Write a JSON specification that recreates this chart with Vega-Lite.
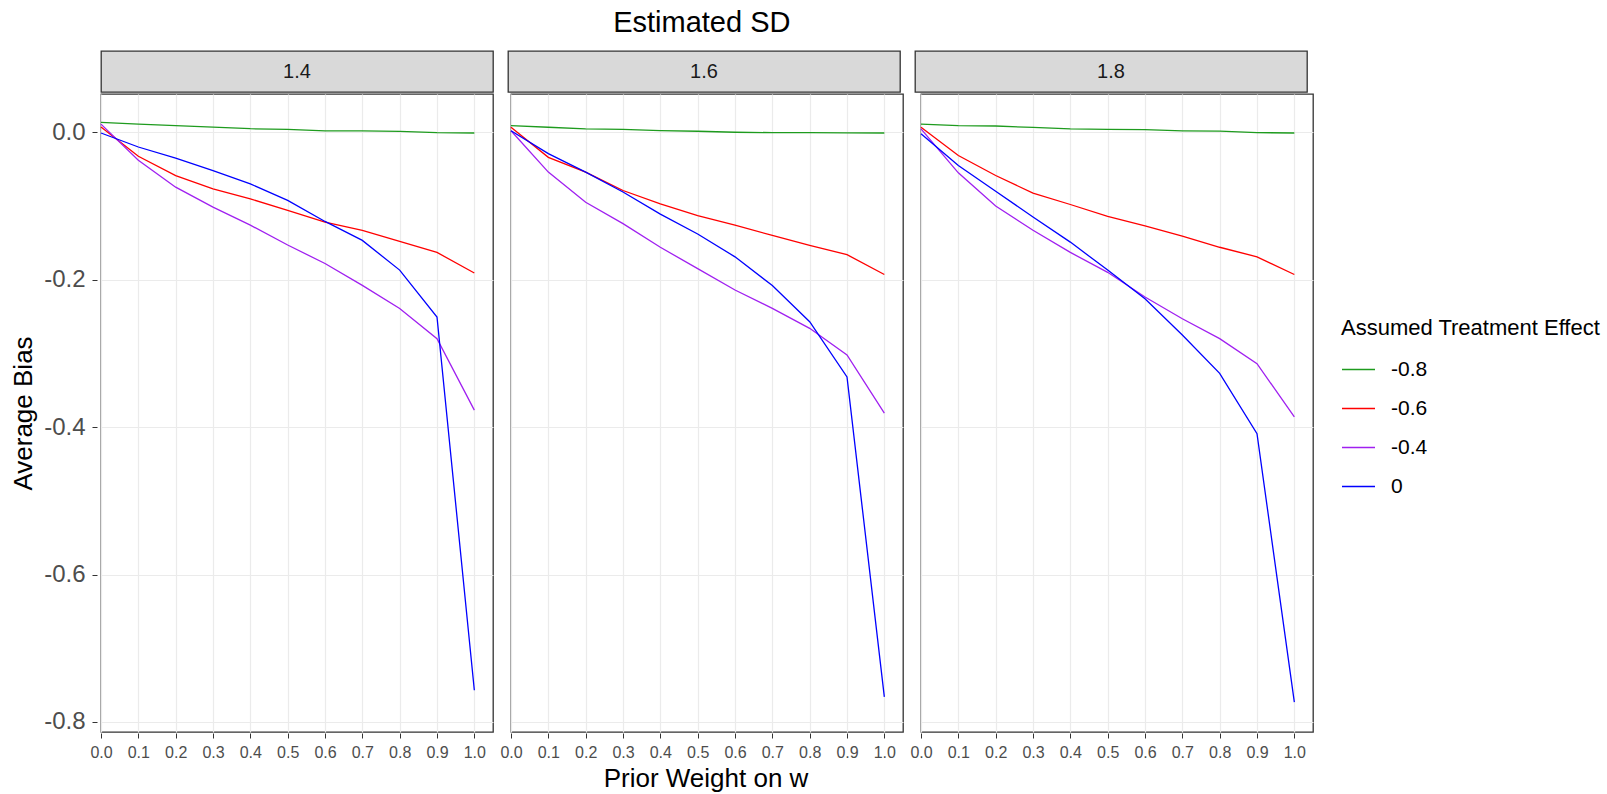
{
  "$schema": "https://vega.github.io/schema/vega-lite/v6.json",
  "padding": {"left": 10, "top": 9, "right": 5, "bottom": 0},
  "title": {"text": "Estimated SD", "fontSize": 29, "fontWeight": "normal", "color": "black", "anchor": "middle", "offset": 12, "dx": -104},
  "datasets": {
    "bias": [
      {"sd": "1.4", "effect": "-0.8", "w": 0.0, "bias": 0.0135},
      {"sd": "1.4", "effect": "-0.8", "w": 0.1, "bias": 0.011},
      {"sd": "1.4", "effect": "-0.8", "w": 0.2, "bias": 0.009},
      {"sd": "1.4", "effect": "-0.8", "w": 0.3, "bias": 0.007},
      {"sd": "1.4", "effect": "-0.8", "w": 0.4, "bias": 0.0048},
      {"sd": "1.4", "effect": "-0.8", "w": 0.5, "bias": 0.004},
      {"sd": "1.4", "effect": "-0.8", "w": 0.6, "bias": 0.002},
      {"sd": "1.4", "effect": "-0.8", "w": 0.7, "bias": 0.0018},
      {"sd": "1.4", "effect": "-0.8", "w": 0.8, "bias": 0.0013},
      {"sd": "1.4", "effect": "-0.8", "w": 0.9, "bias": -0.0005},
      {"sd": "1.4", "effect": "-0.8", "w": 1.0, "bias": -0.001},
      {"sd": "1.4", "effect": "-0.6", "w": 0.0, "bias": 0.007},
      {"sd": "1.4", "effect": "-0.6", "w": 0.1, "bias": -0.0325},
      {"sd": "1.4", "effect": "-0.6", "w": 0.2, "bias": -0.0587},
      {"sd": "1.4", "effect": "-0.6", "w": 0.3, "bias": -0.0767},
      {"sd": "1.4", "effect": "-0.6", "w": 0.4, "bias": -0.0903},
      {"sd": "1.4", "effect": "-0.6", "w": 0.5, "bias": -0.106},
      {"sd": "1.4", "effect": "-0.6", "w": 0.6, "bias": -0.122},
      {"sd": "1.4", "effect": "-0.6", "w": 0.7, "bias": -0.133},
      {"sd": "1.4", "effect": "-0.6", "w": 0.8, "bias": -0.148},
      {"sd": "1.4", "effect": "-0.6", "w": 0.9, "bias": -0.163},
      {"sd": "1.4", "effect": "-0.6", "w": 1.0, "bias": -0.191},
      {"sd": "1.4", "effect": "-0.4", "w": 0.0, "bias": 0.011},
      {"sd": "1.4", "effect": "-0.4", "w": 0.1, "bias": -0.038},
      {"sd": "1.4", "effect": "-0.4", "w": 0.2, "bias": -0.0745},
      {"sd": "1.4", "effect": "-0.4", "w": 0.3, "bias": -0.1016},
      {"sd": "1.4", "effect": "-0.4", "w": 0.4, "bias": -0.126},
      {"sd": "1.4", "effect": "-0.4", "w": 0.5, "bias": -0.153},
      {"sd": "1.4", "effect": "-0.4", "w": 0.6, "bias": -0.178},
      {"sd": "1.4", "effect": "-0.4", "w": 0.7, "bias": -0.2077},
      {"sd": "1.4", "effect": "-0.4", "w": 0.8, "bias": -0.239},
      {"sd": "1.4", "effect": "-0.4", "w": 0.9, "bias": -0.28},
      {"sd": "1.4", "effect": "-0.4", "w": 1.0, "bias": -0.377},
      {"sd": "1.4", "effect": "0", "w": 0.0, "bias": -0.001},
      {"sd": "1.4", "effect": "0", "w": 0.1, "bias": -0.02},
      {"sd": "1.4", "effect": "0", "w": 0.2, "bias": -0.035},
      {"sd": "1.4", "effect": "0", "w": 0.3, "bias": -0.052},
      {"sd": "1.4", "effect": "0", "w": 0.4, "bias": -0.07},
      {"sd": "1.4", "effect": "0", "w": 0.5, "bias": -0.0925},
      {"sd": "1.4", "effect": "0", "w": 0.6, "bias": -0.121},
      {"sd": "1.4", "effect": "0", "w": 0.7, "bias": -0.1467},
      {"sd": "1.4", "effect": "0", "w": 0.8, "bias": -0.187},
      {"sd": "1.4", "effect": "0", "w": 0.9, "bias": -0.2506},
      {"sd": "1.4", "effect": "0", "w": 1.0, "bias": -0.757},
      {"sd": "1.6", "effect": "-0.8", "w": 0.0, "bias": 0.009},
      {"sd": "1.6", "effect": "-0.8", "w": 0.1, "bias": 0.0068},
      {"sd": "1.6", "effect": "-0.8", "w": 0.2, "bias": 0.0045},
      {"sd": "1.6", "effect": "-0.8", "w": 0.3, "bias": 0.004},
      {"sd": "1.6", "effect": "-0.8", "w": 0.4, "bias": 0.0023},
      {"sd": "1.6", "effect": "-0.8", "w": 0.5, "bias": 0.0014},
      {"sd": "1.6", "effect": "-0.8", "w": 0.6, "bias": 0.0},
      {"sd": "1.6", "effect": "-0.8", "w": 0.7, "bias": -0.0005},
      {"sd": "1.6", "effect": "-0.8", "w": 0.8, "bias": -0.0005},
      {"sd": "1.6", "effect": "-0.8", "w": 0.9, "bias": -0.0008},
      {"sd": "1.6", "effect": "-0.8", "w": 1.0, "bias": -0.001},
      {"sd": "1.6", "effect": "-0.6", "w": 0.0, "bias": 0.0068},
      {"sd": "1.6", "effect": "-0.6", "w": 0.1, "bias": -0.034},
      {"sd": "1.6", "effect": "-0.6", "w": 0.2, "bias": -0.054},
      {"sd": "1.6", "effect": "-0.6", "w": 0.3, "bias": -0.079},
      {"sd": "1.6", "effect": "-0.6", "w": 0.4, "bias": -0.097},
      {"sd": "1.6", "effect": "-0.6", "w": 0.5, "bias": -0.113},
      {"sd": "1.6", "effect": "-0.6", "w": 0.6, "bias": -0.126},
      {"sd": "1.6", "effect": "-0.6", "w": 0.7, "bias": -0.14},
      {"sd": "1.6", "effect": "-0.6", "w": 0.8, "bias": -0.1535},
      {"sd": "1.6", "effect": "-0.6", "w": 0.9, "bias": -0.166},
      {"sd": "1.6", "effect": "-0.6", "w": 1.0, "bias": -0.193},
      {"sd": "1.6", "effect": "-0.4", "w": 0.0, "bias": 0.002},
      {"sd": "1.6", "effect": "-0.4", "w": 0.1, "bias": -0.054},
      {"sd": "1.6", "effect": "-0.4", "w": 0.2, "bias": -0.095},
      {"sd": "1.6", "effect": "-0.4", "w": 0.3, "bias": -0.124},
      {"sd": "1.6", "effect": "-0.4", "w": 0.4, "bias": -0.156},
      {"sd": "1.6", "effect": "-0.4", "w": 0.5, "bias": -0.185},
      {"sd": "1.6", "effect": "-0.4", "w": 0.6, "bias": -0.214},
      {"sd": "1.6", "effect": "-0.4", "w": 0.7, "bias": -0.239},
      {"sd": "1.6", "effect": "-0.4", "w": 0.8, "bias": -0.266},
      {"sd": "1.6", "effect": "-0.4", "w": 0.9, "bias": -0.302},
      {"sd": "1.6", "effect": "-0.4", "w": 1.0, "bias": -0.381},
      {"sd": "1.6", "effect": "0", "w": 0.0, "bias": 0.002},
      {"sd": "1.6", "effect": "0", "w": 0.1, "bias": -0.029},
      {"sd": "1.6", "effect": "0", "w": 0.2, "bias": -0.054},
      {"sd": "1.6", "effect": "0", "w": 0.3, "bias": -0.081},
      {"sd": "1.6", "effect": "0", "w": 0.4, "bias": -0.111},
      {"sd": "1.6", "effect": "0", "w": 0.5, "bias": -0.138},
      {"sd": "1.6", "effect": "0", "w": 0.6, "bias": -0.169},
      {"sd": "1.6", "effect": "0", "w": 0.7, "bias": -0.208},
      {"sd": "1.6", "effect": "0", "w": 0.8, "bias": -0.257},
      {"sd": "1.6", "effect": "0", "w": 0.9, "bias": -0.332},
      {"sd": "1.6", "effect": "0", "w": 1.0, "bias": -0.766},
      {"sd": "1.8", "effect": "-0.8", "w": 0.0, "bias": 0.011},
      {"sd": "1.8", "effect": "-0.8", "w": 0.1, "bias": 0.009},
      {"sd": "1.8", "effect": "-0.8", "w": 0.2, "bias": 0.0085},
      {"sd": "1.8", "effect": "-0.8", "w": 0.3, "bias": 0.0065},
      {"sd": "1.8", "effect": "-0.8", "w": 0.4, "bias": 0.0045},
      {"sd": "1.8", "effect": "-0.8", "w": 0.5, "bias": 0.004},
      {"sd": "1.8", "effect": "-0.8", "w": 0.6, "bias": 0.0035},
      {"sd": "1.8", "effect": "-0.8", "w": 0.7, "bias": 0.002},
      {"sd": "1.8", "effect": "-0.8", "w": 0.8, "bias": 0.0015},
      {"sd": "1.8", "effect": "-0.8", "w": 0.9, "bias": -0.0005},
      {"sd": "1.8", "effect": "-0.8", "w": 1.0, "bias": -0.001},
      {"sd": "1.8", "effect": "-0.6", "w": 0.0, "bias": 0.0068},
      {"sd": "1.8", "effect": "-0.6", "w": 0.1, "bias": -0.0316},
      {"sd": "1.8", "effect": "-0.6", "w": 0.2, "bias": -0.0587},
      {"sd": "1.8", "effect": "-0.6", "w": 0.3, "bias": -0.0826},
      {"sd": "1.8", "effect": "-0.6", "w": 0.4, "bias": -0.098},
      {"sd": "1.8", "effect": "-0.6", "w": 0.5, "bias": -0.114},
      {"sd": "1.8", "effect": "-0.6", "w": 0.6, "bias": -0.127},
      {"sd": "1.8", "effect": "-0.6", "w": 0.7, "bias": -0.141},
      {"sd": "1.8", "effect": "-0.6", "w": 0.8, "bias": -0.156},
      {"sd": "1.8", "effect": "-0.6", "w": 0.9, "bias": -0.169},
      {"sd": "1.8", "effect": "-0.6", "w": 1.0, "bias": -0.193},
      {"sd": "1.8", "effect": "-0.4", "w": 0.0, "bias": 0.0045},
      {"sd": "1.8", "effect": "-0.4", "w": 0.1, "bias": -0.055},
      {"sd": "1.8", "effect": "-0.4", "w": 0.2, "bias": -0.1},
      {"sd": "1.8", "effect": "-0.4", "w": 0.3, "bias": -0.133},
      {"sd": "1.8", "effect": "-0.4", "w": 0.4, "bias": -0.163},
      {"sd": "1.8", "effect": "-0.4", "w": 0.5, "bias": -0.19},
      {"sd": "1.8", "effect": "-0.4", "w": 0.6, "bias": -0.2235},
      {"sd": "1.8", "effect": "-0.4", "w": 0.7, "bias": -0.253},
      {"sd": "1.8", "effect": "-0.4", "w": 0.8, "bias": -0.28},
      {"sd": "1.8", "effect": "-0.4", "w": 0.9, "bias": -0.314},
      {"sd": "1.8", "effect": "-0.4", "w": 1.0, "bias": -0.386},
      {"sd": "1.8", "effect": "0", "w": 0.0, "bias": -0.002},
      {"sd": "1.8", "effect": "0", "w": 0.1, "bias": -0.045},
      {"sd": "1.8", "effect": "0", "w": 0.2, "bias": -0.08},
      {"sd": "1.8", "effect": "0", "w": 0.3, "bias": -0.115},
      {"sd": "1.8", "effect": "0", "w": 0.4, "bias": -0.149},
      {"sd": "1.8", "effect": "0", "w": 0.5, "bias": -0.187},
      {"sd": "1.8", "effect": "0", "w": 0.6, "bias": -0.226},
      {"sd": "1.8", "effect": "0", "w": 0.7, "bias": -0.275},
      {"sd": "1.8", "effect": "0", "w": 0.8, "bias": -0.327},
      {"sd": "1.8", "effect": "0", "w": 0.9, "bias": -0.409},
      {"sd": "1.8", "effect": "0", "w": 1.0, "bias": -0.773}
    ]
  },
  "spacing": 0,
  "vconcat": [
    {
      "data": {"name": "bias"},
      "transform": [{"aggregate": [{"op": "count", "as": "n"}], "groupby": ["sd"]}],
      "facet": {"column": {"field": "sd", "type": "nominal", "header": {"title": null, "labels": false}}},
      "spacing": 13,
      "spec": {
        "width": 392,
        "height": 41,
        "view": {"fill": "#d9d9d9", "stroke": "#333333", "strokeWidth": 1.3},
        "mark": {"type": "text", "fontSize": 20, "color": "#1a1a1a"},
        "encoding": {"text": {"field": "sd", "type": "nominal"}}
      }
    },
    {
      "data": {"name": "bias"},
      "facet": {
        "column": {
          "field": "sd",
          "type": "nominal",
          "header": {
            "title": "Prior Weight on w",
            "titleOrient": "bottom",
            "labels": false,
            "titleFontSize": 26,
            "titleFontWeight": "normal",
            "titleColor": "black",
            "titlePadding": -4
          }
        }
      },
      "spacing": 13,
      "spec": {
        "width": 392,
        "height": 638,
        "view": {"fill": "white", "stroke": "#333333", "strokeWidth": 1.3},
        "mark": {"type": "line", "strokeWidth": 1.3},
        "encoding": {
          "x": {
            "field": "w",
            "type": "quantitative",
            "scale": {"domain": [0, 1.05], "nice": false, "zero": false},
            "axis": {
              "title": null,
              "values": [0, 0.1, 0.2, 0.3, 0.4, 0.5, 0.6, 0.7, 0.8, 0.9, 1.0],
              "format": ".1f",
              "labelFlush": false,
              "labelFontSize": 16,
              "labelPadding": 6
            }
          },
          "y": {
            "field": "bias",
            "type": "quantitative",
            "scale": {"domain": [-0.8136, 0.0519], "nice": false, "zero": false},
            "axis": {
              "title": "Average Bias",
              "values": [-0.8, -0.6, -0.4, -0.2, 0],
              "labelExpr": "replace(format(datum.value, '.1f'), '\u2212', '-')",
              "labelFontSize": 24,
              "labelPadding": 7,
              "titleFontSize": 26,
              "titlePadding": 7
            }
          },
          "color": {
            "field": "effect",
            "type": "nominal",
            "scale": {
              "domain": ["-0.8", "-0.6", "-0.4", "0"],
              "range": ["#1e9b1e", "#ff0000", "#a020f0", "#0000ff"]
            },
            "legend": {
              "title": "Assumed Treatment Effect",
              "orient": "none",
              "legendX": 1240,
              "legendY": 267
            }
          }
        }
      }
    }
  ],
  "config": {
    "font": "Liberation Sans",
    "view": {"stroke": "#333333", "strokeWidth": 1.3},
    "axis": {
      "domain": false,
      "gridColor": "#ebebeb",
      "gridWidth": 1.2,
      "tickColor": "#333333",
      "tickSize": 5,
      "labelColor": "#4d4d4d",
      "titleColor": "black",
      "titleFontWeight": "normal"
    },
    "legend": {
      "titleFontSize": 22,
      "titleFontWeight": "normal",
      "titleColor": "black",
      "titleLimit": 400,
      "labelLimit": 200,
      "labelFontSize": 21,
      "labelColor": "black",
      "symbolType": "stroke",
      "symbolSize": 1089,
      "symbolStrokeWidth": 1.3,
      "labelOffset": 15,
      "rowPadding": 11,
      "titlePadding": 12
    }
  }
}
